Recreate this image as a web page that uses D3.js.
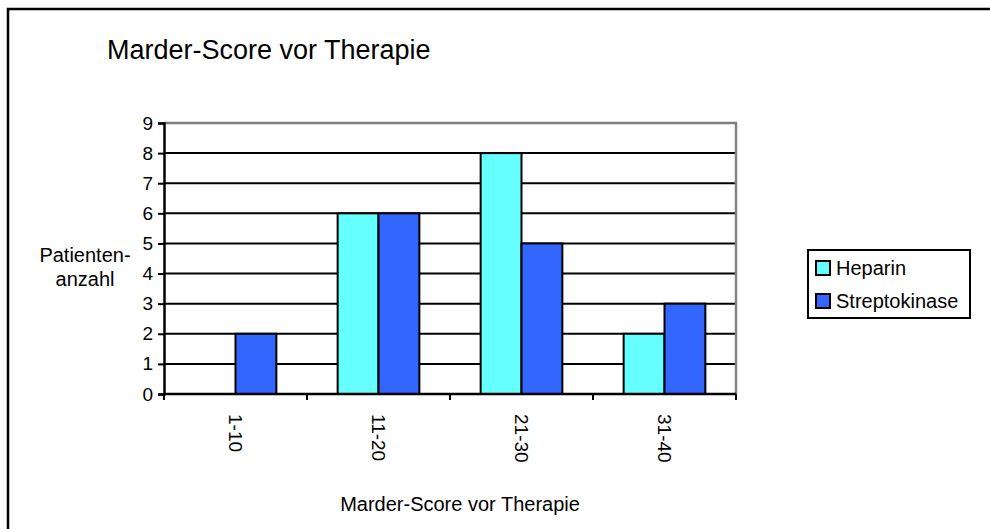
<!DOCTYPE html>
<meta charset="utf-8">
<style>
body { margin: 0; background: #fff; }
svg { font-family: "Liberation Sans", Arial, sans-serif; }
.grid line { stroke: #000; stroke-width: 2px; }
.bar { stroke: #000; stroke-width: 2px; }
.tick-lbl { font-size: 19px; fill: #000; }
</style>
<svg width="990" height="529"></svg>
<script src="https://cdn.jsdelivr.net/npm/d3@7"></script>
<script>

var categories = ["1-10", "11-20", "21-30", "31-40"],
    seriesNames = ["Heparin", "Streptokinase"],
    heparin = [0, 6, 8, 2],
    streptokinase = [2, 6, 5, 3],
    yTicks = [0, 1, 2, 3, 4, 5, 6, 7, 8, 9],
    colors = ["#66ffff", "#3366ff"];

var svg = d3.select("svg"),
    plot = {left: 164, right: 736, top: 123, bottom: 394};

var data = categories.map(function(c, i) {
  return {cat: c, values: [heparin[i], streptokinase[i]]};
});

var x = d3.scaleBand()
    .domain(categories)
    .range([plot.left, plot.right]);

var xs = d3.scaleBand()
    .domain(seriesNames)
    .range([0, x.bandwidth()])
    .paddingOuter(0.75);

var y = d3.scaleLinear()
    .domain([0, 9])
    .range([plot.bottom, plot.top]);

// outer chart border (only top and left visible)
svg.append("rect")
    .attr("x", 8).attr("y", 9)
    .attr("width", 1200).attr("height", 1200)
    .attr("fill", "none")
    .attr("stroke", "#000")
    .attr("stroke-width", 2.5);

svg.append("text")
    .attr("x", 107)
    .attr("y", 59)
    .style("font-size", "27px")
    .text("Marder-Score vor Therapie");

// gridlines
svg.append("g")
    .attr("class", "grid")
  .selectAll("line")
  .data(yTicks.filter(function(d) { return d > 0 && d < 9; }))
  .enter().append("line")
    .attr("x1", plot.left).attr("x2", plot.right)
    .attr("y1", function(d) { return y(d); })
    .attr("y2", function(d) { return y(d); });

// plot frame (grey top and right)
svg.append("path")
    .attr("d", "M" + plot.left + "," + y(9) + "H" + plot.right + "V" + y(0))
    .attr("fill", "none")
    .attr("stroke", "#808080")
    .attr("stroke-width", 2.5);

// bars
svg.append("g")
  .selectAll("g")
  .data(data)
  .enter().append("g")
    .attr("transform", function(d) { return "translate(" + x(d.cat) + ",0)"; })
  .selectAll("rect")
  .data(function(d) { return d.values.map(function(v, i) { return {name: seriesNames[i], value: v, i: i}; }); })
  .enter().filter(function(d) { return d.value > 0; }).append("rect")
    .attr("class", "bar")
    .attr("x", function(d) { return xs(d.name); })
    .attr("width", xs.bandwidth())
    .attr("y", function(d) { return y(d.value); })
    .attr("height", function(d) { return y(0) - y(d.value); })
    .attr("fill", function(d) { return colors[d.i]; });

// y axis
var yAxis = svg.append("g")
    .attr("transform", "translate(" + plot.left + ",0)")
    .call(d3.axisLeft(y).tickValues(yTicks).tickSize(6).tickPadding(5));
yAxis.select(".domain").attr("stroke", "#000").attr("stroke-width", 2.5);
yAxis.selectAll(".tick line").attr("stroke", "#000").attr("stroke-width", 2);
yAxis.selectAll(".tick text")
    .attr("class", "tick-lbl")
    .attr("font-family", null).attr("font-size", null);

// x axis
var xAxis = svg.append("g");
xAxis.append("line")
    .attr("x1", plot.left).attr("x2", plot.right)
    .attr("y1", y(0)).attr("y2", y(0))
    .attr("stroke", "#000").attr("stroke-width", 2.5);
xAxis.selectAll(".xt")
  .data(categories.map(function(c) { return x(c); }).concat([x(categories[categories.length - 1]) + x.bandwidth()]))
  .enter().append("line")
    .attr("x1", function(d) { return d; }).attr("x2", function(d) { return d; })
    .attr("y1", y(0)).attr("y2", y(0) + 6)
    .attr("stroke", "#000").attr("stroke-width", 2);
xAxis.selectAll(".xl")
  .data(categories)
  .enter().append("text")
    .attr("class", "tick-lbl")
    .attr("transform", function(d) { return "translate(" + (x(d) + x.bandwidth() / 2) + "," + (y(0) + 20) + ") rotate(90)"; })
    .attr("dy", "0.35em")
    .text(function(d) { return d; });

svg.append("text")
    .attr("x", 460)
    .attr("y", 511)
    .attr("text-anchor", "middle")
    .style("font-size", "20px")
    .text("Marder-Score vor Therapie");

var ylab = svg.append("text")
    .attr("text-anchor", "middle")
    .style("font-size", "20px");
ylab.append("tspan").attr("x", 85).attr("y", 262).text("Patienten-");
ylab.append("tspan").attr("x", 85).attr("y", 286).text("anzahl");

// legend
var legend = svg.append("g");
legend.append("rect")
    .attr("x", 808).attr("y", 250)
    .attr("width", 162).attr("height", 68)
    .attr("fill", "#fff")
    .attr("stroke", "#000").attr("stroke-width", 2);
var li = legend.selectAll(".li")
  .data(seriesNames)
  .enter().append("g")
    .attr("transform", function(d, i) { return "translate(816," + (261 + i * 33) + ")"; });
li.append("rect")
    .attr("width", 14).attr("height", 14)
    .attr("fill", function(d, i) { return colors[i]; })
    .attr("stroke", "#000").attr("stroke-width", 2);
li.append("text")
    .attr("x", 20).attr("y", 14)
    .style("font-size", "20px")
    .text(function(d) { return d; });

</script>
